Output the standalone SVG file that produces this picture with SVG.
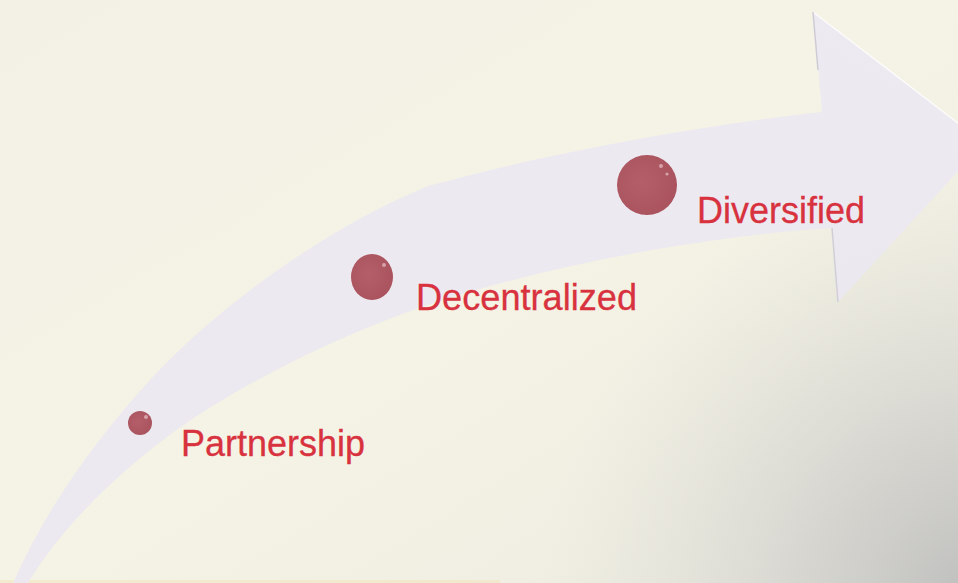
<svg xmlns="http://www.w3.org/2000/svg" width="958" height="583" viewBox="0 0 958 583">
  <defs>
    <linearGradient id="bg" x1="0" y1="0" x2="1" y2="1">
      <stop offset="0" stop-color="#f3f1e6"/>
      <stop offset="0.5" stop-color="#f5f3e5"/>
      <stop offset="1" stop-color="#ecebe0"/>
    </linearGradient>
    <radialGradient id="shade" cx="990" cy="610" r="450" gradientUnits="userSpaceOnUse">
      <stop offset="0" stop-color="#b8b8b8" stop-opacity="0.95"/>
      <stop offset="0.45" stop-color="#c9c9c7" stop-opacity="0.6"/>
      <stop offset="1" stop-color="#dadad4" stop-opacity="0"/>
    </radialGradient>
    <radialGradient id="dot" cx="0.42" cy="0.45" r="0.6">
      <stop offset="0" stop-color="#b35f69"/>
      <stop offset="1" stop-color="#aa535e"/>
    </radialGradient>
    <linearGradient id="arrowFill" x1="0" y1="1" x2="1" y2="0">
      <stop offset="0" stop-color="#ebe7f1"/>
      <stop offset="1" stop-color="#ece8f3"/>
    </linearGradient>
  </defs>
  <style>
    .lbl { font-family: "Liberation Sans", Arial, sans-serif; fill: #d8323f; stroke: #d8323f; stroke-width: 0.3; }
    .dot { fill: url(#dot); }
    .hl { fill: #e2b4ba; opacity: 0.8; }
  </style>

  <rect x="0" y="0" width="958" height="583" fill="url(#bg)"/>
  <rect x="0" y="0" width="958" height="583" fill="url(#shade)"/>
  <rect x="0" y="580" width="500" height="3" fill="#f2e2b2" opacity="0.45"/>

  <g id="connectors">
    <path id="arrow" d="M 13,583 C 45,510 95,440 150,380 C 205,320 310,235 428,186 C 540,155 700,125 822,112 L 813,12 L 984,143 L 838,302 L 832,228 C 700,236 520,270 397,316 C 320,345 230,390 167,437 C 110,480 60,530 28,583 Z" fill="url(#arrowFill)" fill-opacity="0.88"/>
    <path d="M 813,12 L 984,143" stroke="#ffffff" stroke-width="1.5" stroke-opacity="0.8" fill="none"/>
    <path d="M 813,12 L 818,70" stroke="#cfcbd6" stroke-width="1.5" fill="none"/>
    <path d="M 832,228 L 838,302" stroke="#d2ced8" stroke-width="1.5" fill="none"/>
  </g>

  <g id="node-partnership">
    <circle class="dot" cx="140" cy="423" r="12"/>
    <circle class="hl" cx="146" cy="417" r="2"/>
    <text class="lbl" x="181" y="456" font-size="36" textLength="184" lengthAdjust="spacingAndGlyphs">Partnership</text>
  </g>

  <g id="node-decentralized">
    <ellipse class="dot" cx="372" cy="277" rx="21" ry="23"/>
    <circle class="hl" cx="384" cy="265" r="2"/>
    <text class="lbl" x="416" y="310" font-size="37" textLength="221" lengthAdjust="spacingAndGlyphs">Decentralized</text>
  </g>

  <g id="node-diversified">
    <circle class="dot" cx="647" cy="185" r="30"/>
    <circle class="hl" cx="661" cy="166" r="2"/>
    <circle class="hl" cx="667" cy="174" r="1.6"/>
    <text class="lbl" x="697" y="223" font-size="37" textLength="168" lengthAdjust="spacingAndGlyphs">Diversified</text>
  </g>
</svg>
